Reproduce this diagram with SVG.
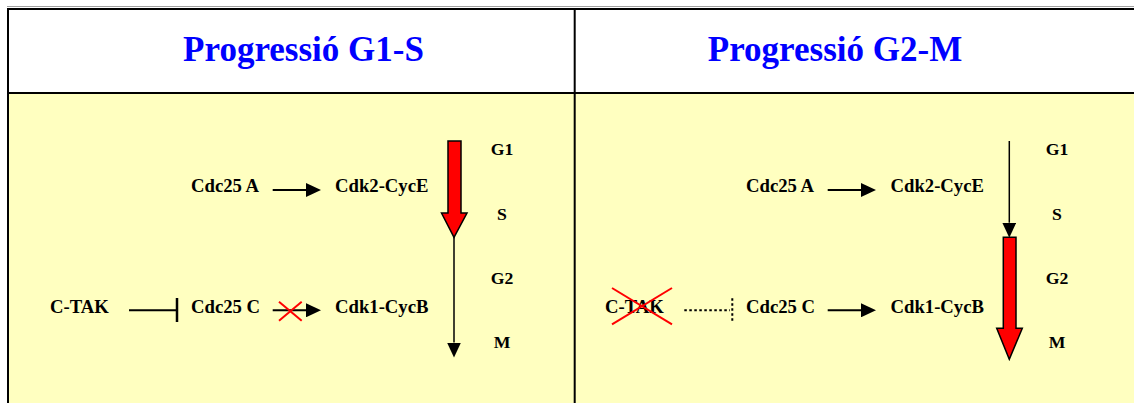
<svg xmlns="http://www.w3.org/2000/svg" width="1134" height="403" viewBox="0 0 1134 403">
  <style>
    .title { font-family: "Liberation Serif", "Times New Roman", serif; font-weight: bold; font-size: 35px; fill: #0000FF; text-anchor: middle; }
    .lbl { font-family: "Liberation Serif", "Times New Roman", serif; font-weight: bold; font-size: 18.7px; fill: #000; }
    .phase { font-family: "Liberation Serif", "Times New Roman", serif; font-weight: bold; font-size: 17.7px; fill: #000; text-anchor: middle; }
    .grid { stroke: #000; stroke-width: 2; fill: none; }
    .conn { stroke: #000; stroke-width: 2; fill: none; }
    .thin { stroke: #000; stroke-width: 1.5; fill: none; }
    .cross { stroke: #FF0000; stroke-width: 2; fill: none; }
    .fat { fill: #FF0000; stroke: #000; stroke-width: 1.5; stroke-linejoin: miter; }
    .dot { stroke: #000; stroke-width: 2; fill: none; stroke-dasharray: 2.5 2.5; }
  </style>
  <defs>
    <marker id="head" markerUnits="userSpaceOnUse" viewBox="0 0 15 14" refX="0" refY="7" markerWidth="15" markerHeight="14" orient="auto">
      <path d="M0,0 L15,7 L0,14 z" fill="#000"/>
    </marker>
  </defs>

  <!-- background / table -->
  <g id="table">
    <rect x="0" y="0" width="1134" height="403" fill="#FFFFFF"/>
    <rect x="8" y="93" width="1126" height="310" fill="#FFFFC0"/>
    <line x1="7" y1="6.5" x2="1134" y2="6.5" stroke="#A0A0A0" stroke-width="1"/>
    <line x1="7" y1="9" x2="1134" y2="9" class="grid"/>
    <line x1="8" y1="8" x2="8" y2="403" class="grid"/>
    <line x1="7" y1="93" x2="1134" y2="93" class="grid"/>
    <line x1="574.7" y1="8" x2="574.7" y2="403" class="grid"/>
  </g>

  <!-- headers -->
  <g id="header-g1s"><text class="title" x="303.5" y="61">Progressió G1-S</text></g>
  <g id="header-g2m"><text class="title" x="835" y="61">Progressió G2-M</text></g>

  <!-- Left panel nodes -->
  <g id="l-cdc25a"><text class="lbl" x="191" y="191.5">Cdc25 A</text></g>
  <g id="l-cdk2"><text class="lbl" x="335" y="191.5">Cdk2-CycE</text></g>
  <g id="l-ctak"><text class="lbl" x="50" y="312.5">C-TAK</text></g>
  <g id="l-cdc25c"><text class="lbl" x="191" y="312.5">Cdc25 C</text></g>
  <g id="l-cdk1"><text class="lbl" x="335" y="312.5">Cdk1-CycB</text></g>
  <g id="l-phases">
    <text class="phase" x="502" y="155">G1</text>
    <text class="phase" x="502" y="219.5">S</text>
    <text class="phase" x="502" y="283.5">G2</text>
    <text class="phase" x="502" y="348">M</text>
  </g>

  <!-- Right panel nodes -->
  <g id="r-cdc25a"><text class="lbl" x="746" y="191.5">Cdc25 A</text></g>
  <g id="r-cdk2"><text class="lbl" x="890.5" y="191.5">Cdk2-CycE</text></g>
  <g id="r-ctak"><text class="lbl" x="605" y="312.5">C-TAK</text></g>
  <g id="r-cdc25c"><text class="lbl" x="746" y="312.5">Cdc25 C</text></g>
  <g id="r-cdk1"><text class="lbl" x="890.5" y="312.5">Cdk1-CycB</text></g>
  <g id="r-phases">
    <text class="phase" x="1057" y="155">G1</text>
    <text class="phase" x="1057" y="219.5">S</text>
    <text class="phase" x="1057" y="283.5">G2</text>
    <text class="phase" x="1057" y="348">M</text>
  </g>

  <!-- connectors -->
  <g id="connectors">
    <!-- left panel -->
    <line x1="272.7" y1="190" x2="306" y2="190" class="conn" marker-end="url(#head)"/>
    <line x1="272.7" y1="310.3" x2="306" y2="310.3" class="conn" marker-end="url(#head)"/>
    <line x1="279" y1="301.7" x2="301.7" y2="320.7" class="cross"/>
    <line x1="279" y1="320.7" x2="301.7" y2="301.7" class="cross"/>
    <line x1="129" y1="310.3" x2="177" y2="310.3" class="conn"/>
    <line x1="177" y1="298" x2="177" y2="322" stroke="#000" stroke-width="2.5"/>
    <polygon class="fat" points="448,141 461,141 461,213 467,213 454,237.3 441.5,213 448,213"/>
    <line x1="454" y1="237" x2="454" y2="342.5" class="thin" marker-end="url(#head)"/>

    <!-- right panel -->
    <line x1="827.7" y1="190" x2="861" y2="190" class="conn" marker-end="url(#head)"/>
    <line x1="827.7" y1="310.3" x2="861" y2="310.3" class="conn" marker-end="url(#head)"/>
    <line x1="684.3" y1="310.3" x2="730" y2="310.3" class="dot"/>
    <line x1="732.3" y1="298.3" x2="732.3" y2="322.3" class="dot"/>
    <line x1="612" y1="288" x2="672" y2="324.3" class="cross"/>
    <line x1="612" y1="324.3" x2="672" y2="288" class="cross"/>
    <line x1="1009.3" y1="141" x2="1009.3" y2="222.7" class="thin" marker-end="url(#head)"/>
    <polygon class="fat" points="1003.3,237.3 1016,237.3 1016,328.3 1022.3,328.3 1009.3,359.3 996.7,328.3 1003.3,328.3"/>
  </g>
</svg>
